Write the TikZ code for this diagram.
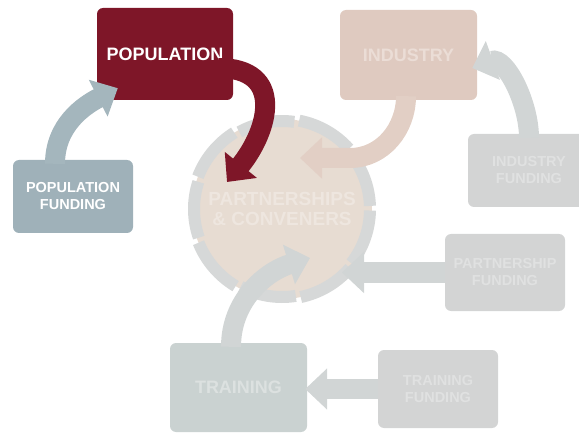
\documentclass[tikz,border=0pt]{standalone}
\usepackage{fontspec}
\setmainfont{Liberation Sans}
\usetikzlibrary{arrows.meta}
\definecolor{popred}{HTML}{7E1628}
\definecolor{popfund}{HTML}{9FB1B9}
\definecolor{bluearrow}{HTML}{A4B6BD}
\definecolor{indbox}{HTML}{DFCAC0}
\definecolor{indtext}{HTML}{EBDDD6}
\definecolor{indarrow}{HTML}{E2CFC5}
\definecolor{graybox}{HTML}{D3D4D4}
\definecolor{graytext}{HTML}{E0E1E1}
\definecolor{grayarrow}{HTML}{D1D5D5}
\definecolor{trbox}{HTML}{CAD2D1}
\definecolor{trtext}{HTML}{DCE1E0}
\definecolor{circbg}{HTML}{E7DCD2}
\definecolor{circtext}{HTML}{EEE6DF}
\definecolor{ringc}{HTML}{D6D8D8}
\tikzset{
  box/.style={rounded corners=6pt, inner sep=0pt, align=center, font=\bfseries\fontsize{18}{20}\selectfont},
  fundbox/.style={box, font=\bfseries\fontsize{14.5}{17}\selectfont},
  fat/.style={line width=20pt, -{Triangle[length=22pt,width=40pt]}},
}
\begin{document}
\begin{tikzpicture}[x=1pt,y=1pt]
\useasboundingbox (0,0) rectangle (579,-433);
\clip (0,0) rectangle (579,-433);
% central circle
\node[circle, minimum size=180pt, inner sep=0pt, fill=circbg] (circ) at (282,-209) {};
\foreach \a/\r in {2/88,42/90,82/88,122/90,162/88,202/90,242/88,282/90,322/88} {
  \draw[ringc, line width=12pt]
    ([shift={(\a:\r)}]circ.center) arc[start angle=\a, end angle=\a+37, radius=\r];
}
\node[fill=circbg, circle, minimum size=162pt, inner sep=0pt, text=circtext, align=center,
      font=\bfseries\fontsize{19}{20}\selectfont] (circin) at (circ.center) {PARTNERSHIPS\\\& CONVENERS};
% boxes
\node[box, fill=popred, text=white, minimum width=136pt, minimum height=92pt] (pop) at (165,-54) {POPULATION};
\node[fundbox, fill=popfund, text=white, minimum width=120pt, minimum height=73pt] (popf) at (73,-196.5) {POPULATION\\FUNDING};
\node[box, fill=indbox, text=indtext, minimum width=137pt, minimum height=90pt] (ind) at (408.5,-55) {INDUSTRY};
\node[fundbox, fill=graybox, text=graytext, minimum width=122pt, minimum height=73pt] (indf) at (529,-170.5) {INDUSTRY\\FUNDING};
\node[fundbox, fill=graybox, text=graytext, minimum width=120pt, minimum height=77pt] (pf) at (505,-272.5) {PARTNERSHIP\\FUNDING};
\node[box, fill=trbox, text=trtext, minimum width=137pt, minimum height=89pt] (tr) at (238.5,-387.5) {TRAINING};
\node[fundbox, fill=graybox, text=graytext, minimum width=120pt, minimum height=78pt] (tf) at (438,-389) {TRAINING\\FUNDING};
% helper coordinates
\coordinate (ptip) at ([xshift=60pt]circ.center);
\coordinate (indbend) at ([shift={(68pt,51pt)}]circ.center);
\coordinate (indtip) at ([shift={(18pt,51pt)}]circ.center);
\coordinate (ttip) at ([xshift=-2pt]tr.east);
% arrows
\draw[fat, indarrow] ([xshift=-2.5pt,yshift=4pt]ind.south) to[out=-90,in=0] (indbend) -- (indtip);
\draw[fat, popred] ([xshift=-15pt,yshift=-14pt]pop.east) to[out=0,in=51,looseness=1.5] ([shift={(-55pt,27pt)}]circ.center);
\draw[fat, bluearrow] ([xshift=-18pt,yshift=-4pt]popf.north) to[out=90,in=207] ([xshift=21pt,yshift=12pt]pop.south west);
\draw[fat, grayarrow] ([yshift=-4pt]indf.north) to[out=90,in=20] ([xshift=-5pt,yshift=-13pt]ind.east);
\draw[fat, grayarrow] (pf.west) -- (ptip |- pf.west);
\draw[fat, grayarrow] ([xshift=-7.5pt,yshift=-4pt]tr.north) to[out=90,in=197] ([shift={(28pt,-49pt)}]circ.center);
\draw[fat, grayarrow] (tf.west) -- (ttip |- tf.west);
\end{tikzpicture}
\end{document}
